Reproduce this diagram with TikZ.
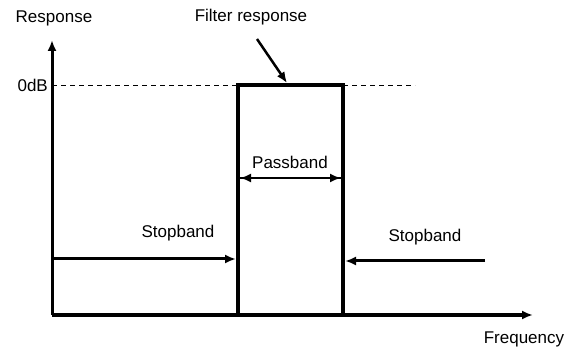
\documentclass[tikz,border=0pt]{standalone}
\usepackage{fontspec}
\setmainfont{Liberation Sans}
\usetikzlibrary{arrows.meta}

\begin{document}
\begin{tikzpicture}[x=1pt,y=-1pt,
	lbl/.style={font=\fontsize{17}{20}\selectfont, inner sep=0pt},
	tip/.style={-{Latex[length=11pt,width=9pt]}},
	guide/.style={line width=.8pt, dash pattern=on 5pt off 4pt}]
	\useasboundingbox (0,0) rectangle (574,352);
	\path
	(52,315) coordinate (O)
	(52,40) coordinate (Y)
	(533,315) coordinate (X)
	(52,85) coordinate (Z)
	(238,85) coordinate (A)
	(343,85) coordinate (B)
	(238,315) coordinate (C)
	(343,315) coordinate (D)
	(415,85) coordinate (E)
	(257,39) coordinate (P)
	(287,83) coordinate (Q)
	(52,259) coordinate (L)
	(485,261) coordinate (R);
	\draw[guide] (Z)--(A) (B)--(E);
	\draw[line width=3pt, tip] (O)--(Y);
	\draw[line width=3.5pt, tip] (O)--(X);
	\draw[line width=4pt, line join=miter] (C)--(A)--(B)--(D);
	\draw[line width=2.5pt, tip] (P)--(Q);
	\draw[line width=2.5pt, tip] (240,178)--(341,178);
	\draw[line width=2.5pt, tip] (341,178)--(240,178);
	\draw[line width=3pt, tip] (L)--(236,259);
	\draw[line width=3pt, tip] (R)--(345,261);
	\node[lbl] (resp) at (54,18) {Response};
	\node[lbl] (filt) at (251,17) {Filter response};
	\node[lbl, anchor=east] (odb) at (48,85) {0dB};
	\node[lbl] (pass) at (290,162) {Passband};
	\node[lbl] (stopl) at (178,233) {Stopband};
	\node[lbl] (stopr) at (425,237) {Stopband};
	\node[lbl] (freq) at (524,339) {Frequency};
\end{tikzpicture}
\end{document}
